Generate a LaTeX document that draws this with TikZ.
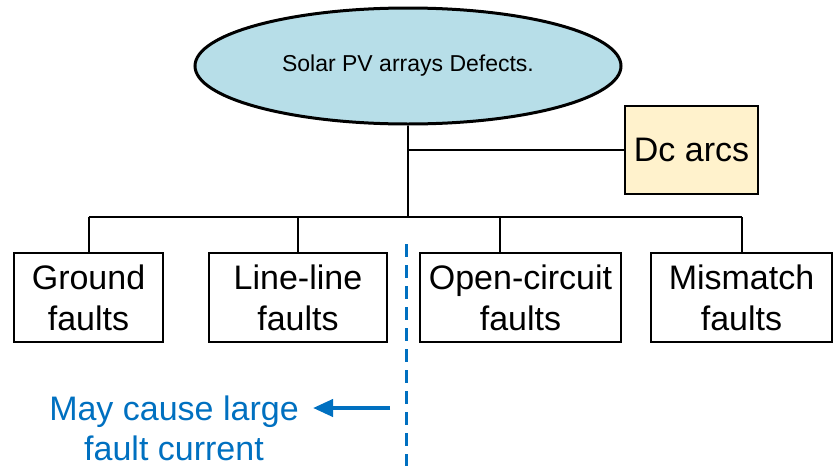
\documentclass[tikz,border=0pt]{standalone}
\usepackage{fontspec}
\setmainfont{Liberation Sans}
\usetikzlibrary{shapes.geometric,arrows.meta}
\definecolor{skyfill}{HTML}{B7DEE8}
\definecolor{arcfill}{HTML}{FFF2CC}
\definecolor{noteblue}{HTML}{0070C0}
\begin{document}
\begin{tikzpicture}[x=1pt,y=-1pt,line width=2pt,
	faultbox/.style={draw,line width=2.5pt,inner sep=0pt,minimum height=89pt,align=center,
		font=\fontsize{34}{41}\selectfont}]
	\useasboundingbox (0,0) rectangle (834,466);
	% top of the tree
	\node[ellipse,draw,line width=3pt,fill=skyfill,minimum width=426pt,minimum height=116pt,
		font=\fontsize{23}{27}\selectfont] (defects) at (408,66) {Solar PV arrays Defects.};
	\node[draw,line width=2.5pt,fill=arcfill,minimum width=133pt,minimum height=88pt,inner sep=0pt,
		font=\fontsize{34}{40}\selectfont] (dcarcs) at (691.5,150) {Dc arcs};
	% the four fault boxes
	\node[faultbox,minimum width=149pt] (ground) at (88.5,297.5) {Ground\\faults};
	\node[faultbox,minimum width=178pt] (lineline) at (298,297.5) {Line-line\\faults};
	\node[faultbox,minimum width=201pt] (open) at (520.5,297.5) {Open-circuit\\faults};
	\node[faultbox,minimum width=181pt] (mismatch) at (741.5,297.5) {Mismatch\\faults};
	% connectors
	\coordinate (arcjoin) at (defects.south |- dcarcs.west);
	\coordinate (bar) at (defects.south |- 0,217);
	\coordinate (openjoin) at ([xshift=-21pt]open.north);
	\draw (defects.south) -- (bar);
	\draw (arcjoin) -- (dcarcs.west);
	\draw (ground.north |- bar) -- (mismatch.north |- bar);
	\draw (ground.north |- bar) -- (ground.north);
	\draw (lineline.north |- bar) -- (lineline.north);
	\draw (openjoin |- bar) -- (openjoin);
	\draw (mismatch.north |- bar) -- (mismatch.north);
	% blue note
	\coordinate (cuttop) at (406,244);
	\coordinate (cutbot) at (406,466);
	\draw[noteblue,line width=3pt,dash pattern=on 13pt off 8pt] (cuttop) -- (cutbot);
	\coordinate (tail) at (390,408);
	\node[noteblue,align=center,anchor=base,font=\fontsize{34}{40}\selectfont] (note) at (174,460)
		{May cause large\\fault current};
	\draw[noteblue,line width=4pt,-{Triangle[length=20pt,width=17pt]}] (tail) -- (313,408);
\end{tikzpicture}
\end{document}
